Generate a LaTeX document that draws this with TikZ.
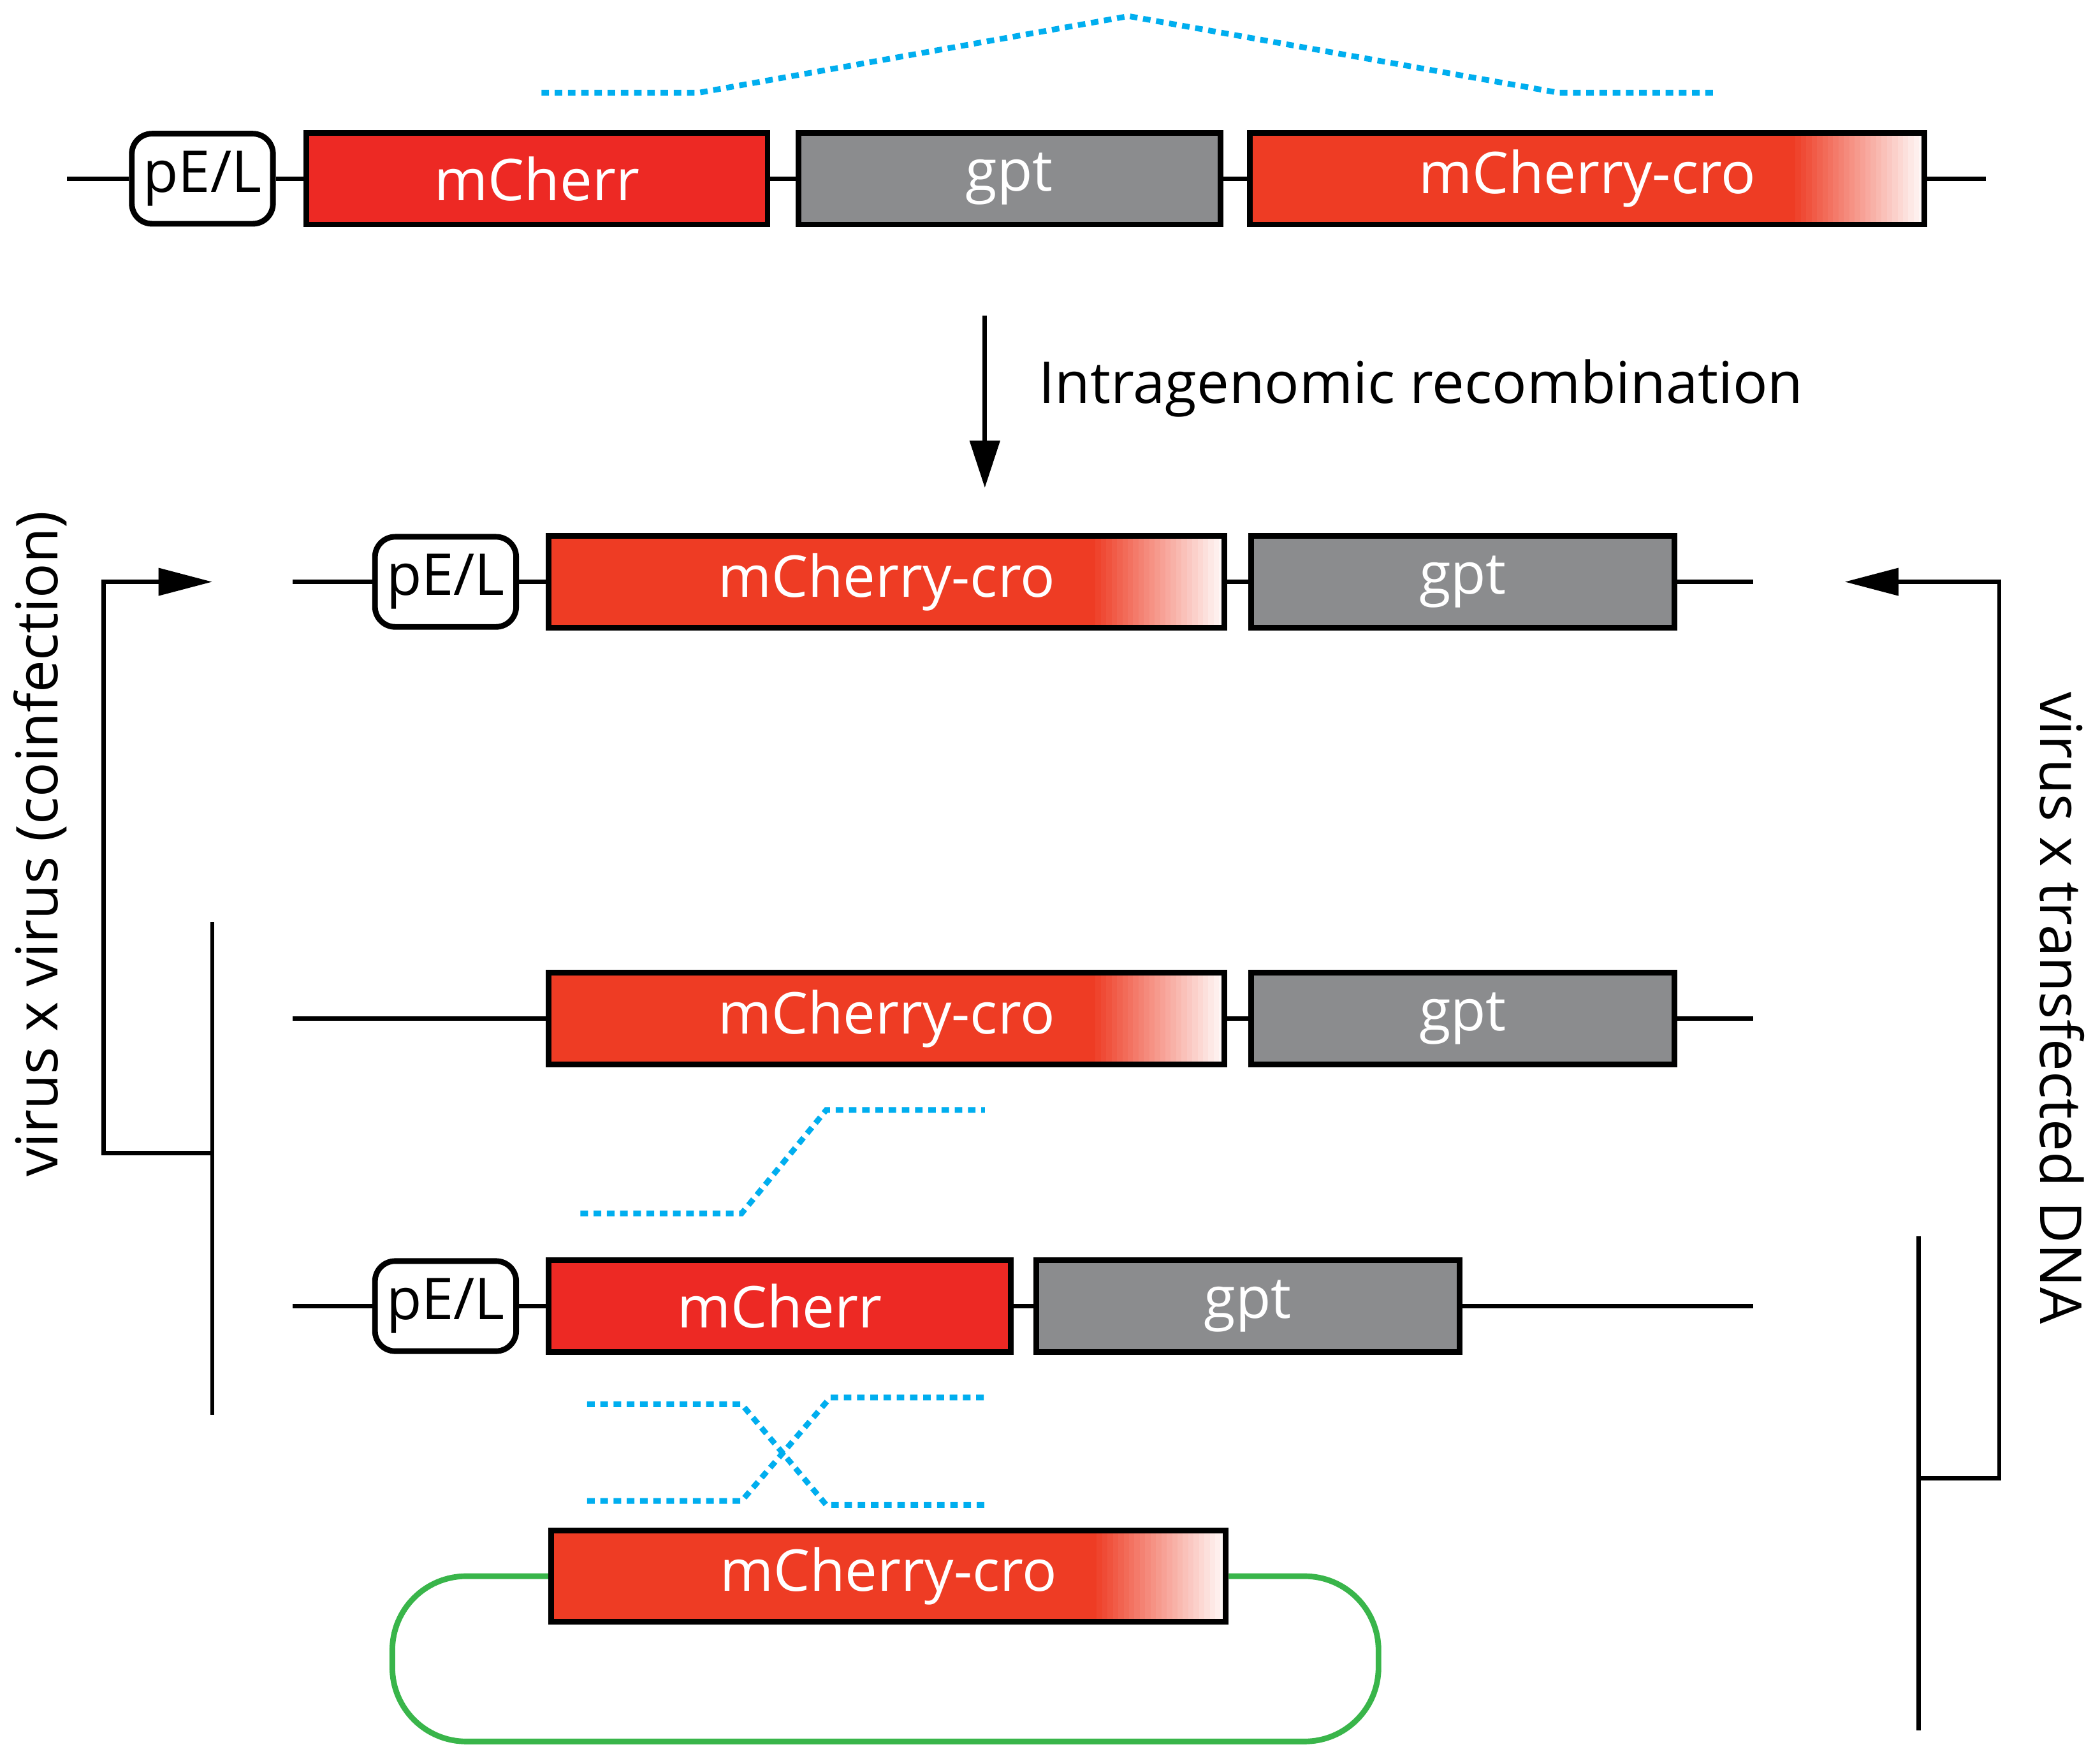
\documentclass[tikz,border=0pt]{standalone}
\usepackage{fontspec}
\setmainfont{Open Sans}
\usetikzlibrary{arrows.meta}
\definecolor{chred}{RGB}{237,41,36}
\definecolor{crored}{RGB}{238,60,36}
\definecolor{gptgray}{RGB}{139,140,142}
\definecolor{xblue}{RGB}{0,174,239}
\definecolor{plgreen}{RGB}{57,181,74}
\begin{document}
\begin{tikzpicture}[x=0.01cm,y=-0.01cm,line width=0.9pt,
  box/.style={draw,line width=1.2pt,anchor=west,inner sep=0pt,minimum height=0.68cm,text=white,font=\fontsize{12.2}{12.2}\selectfont},
  mch/.style={box,fill=chred,minimum width=#1},
  gpt/.style={box,fill=gptgray,minimum width=#1},
  cro/.style={box,fill=crored,minimum width=#1,path picture={
     \foreach \i in {0,...,24}{
       \pgfmathsetmacro\pct{100-4*\i}
       \fill[crored!\pct!white] ([xshift=-1cm+\i*0.04cm]path picture bounding box.north east)
         rectangle ([xshift=-1cm+\i*0.04cm+0.045cm]path picture bounding box.south east);}}},
  prom/.style={draw,line width=1.2pt,rounded corners=0.15cm,anchor=west,inner sep=0pt,minimum width=1.05cm,minimum height=0.67cm,fill=white,font=\fontsize{12.2}{12.2}\selectfont},
  xover/.style={xblue,line width=1.2pt,dash pattern=on 1.6pt off 1.2pt},
  lbl/.style={font=\fontsize{12.2}{12.2}\selectfont}]
\useasboundingbox (0,0) rectangle (1563,1305);
% top construct
\coordinate (s1) at (50,133);
\coordinate (e1) at (1478,133);
\node[prom] (p1) at (96,133) {pE/L};
\node[mch=3.43cm] (m1) at (226,133) {mCherr};
\node[gpt=3.14cm] (g1) at (592,133) {gpt};
\node[cro=5.02cm] (c1) at (928,133) {mCherry-cro};
\draw (s1) -- (p1) (p1) -- (m1) (m1) -- (g1) (g1) -- (c1) (c1) -- (e1);
\draw[xover] (403,69) -- (520,69) -- (840,12) -- (1160,69) -- (1278,69);
% recombination arrow
\coordinate (a0) at (733,235);
\coordinate (a1) at (733,363);
\draw[-{Triangle[length=0.35cm,width=0.22cm]}] (a0) -- (a1);
\node[lbl,anchor=west] (rec) at (760,289) {Intragenomic recombination};
% product
\coordinate (s2) at (218,433);
\coordinate (e2) at (1305,433);
\node[prom] (p2) at (277,433) {pE/L};
\node[cro=5.03cm] (c2) at (406,433) {mCherry-cro};
\node[gpt=3.15cm] (g2) at (929,433) {gpt};
\draw (s2) -- (p2) (p2) -- (c2) (c2) -- (g2) (g2) -- (e2);
% third row
\coordinate (s3) at (218,758);
\coordinate (e3) at (1305,758);
\node[cro=5.03cm] (c3) at (406,758) {mCherry-cro};
\node[gpt=3.15cm] (g3) at (929,758) {gpt};
\draw (s3) -- (c3) (c3) -- (g3) (g3) -- (e3);
\draw[xover] (432,903) -- (552,903) -- (615,826) -- (733,826);
% fourth row
\coordinate (s4) at (218,972);
\coordinate (e4) at (1305,972);
\node[prom] (p4) at (277,972) {pE/L};
\node[mch=3.44cm] (m4) at (406,972) {mCherr};
\node[gpt=3.15cm] (g4) at (769,972) {gpt};
\draw (s4) -- (p4) (p4) -- (m4) (m4) -- (g4) (g4) -- (e4);
\draw[xover] (437,1045) -- (552,1045) -- (615,1120) -- (735,1120);
\draw[xover] (437,1117) -- (552,1117) -- (618,1040) -- (735,1040);
% plasmid
\node[cro=5.02cm] (c5) at (408,1173) {mCherry-cro};
\draw[plgreen,line width=1.2pt,rounded corners=0.55cm] (c5.west) -- (292,1173) -- (292,1296) -- (1026,1296) -- (1026,1173) -- (c5.east);
% left bracket
\coordinate (lb0) at (158,686);
\coordinate (lb1) at (158,1053);
\coordinate (lm) at (158,858);
\coordinate (lc) at (77,858);
\coordinate (lt) at (77,433);
\coordinate (la) at (158,433);
\draw (lb0) -- (lb1);
\draw[-{Triangle[length=0.4cm,width=0.2cm]}] (lm) -- (lc) -- (lt) -- (la);
\node[lbl,rotate=90] (vv) at (30,628) {virus x virus (coinfection)};
% right bracket
\coordinate (rb0) at (1428,920);
\coordinate (rb1) at (1428,1288);
\coordinate (rm) at (1428,1100);
\coordinate (rc) at (1488,1100);
\coordinate (rt) at (1488,433);
\coordinate (ra) at (1373,433);
\draw (rb0) -- (rb1);
\draw[-{Triangle[length=0.4cm,width=0.2cm]}] (rm) -- (rc) -- (rt) -- (ra);
\node[lbl,rotate=-90] (vd) at (1535,750) {virus x transfected DNA};
\end{tikzpicture}
\end{document}
